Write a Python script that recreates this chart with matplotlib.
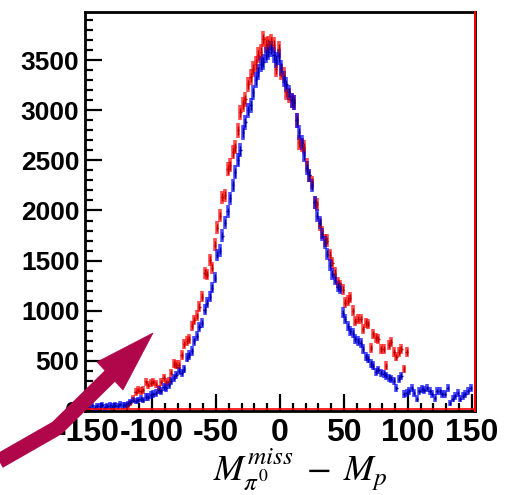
import numpy as np
import matplotlib
matplotlib.use("Agg")
import matplotlib.pyplot as plt
from matplotlib.patches import Polygon
from matplotlib.lines import Line2D

plt.rcParams['mathtext.fontset'] = 'stix'
plt.rcParams['axes.unicode_minus'] = False

# ---- data -----------------------------------------------------------
bin_width = 2.0
blue_centers = np.arange(-149, 150, 2)  # 150 bins
blue_counts = [
    40, 55, 30, 50, 45, 60, 35, 50, 55, 45, 60, 50, 65, 55, 60,
    70, 90, 110, 100, 110, 120, 110, 140, 140, 160,
    170, 180, 210, 200, 240, 230, 260, 300, 330, 360,
    400, 380, 420, 530, 560, 600, 700, 750, 840, 880,
    1010, 1080, 1140, 1230, 1330, 1560, 1600, 1750, 1880, 1990,
    2120, 2250, 2380, 2500, 2600, 2780, 2880, 3000, 3050, 3180,
    3300, 3380, 3460, 3480, 3550, 3580, 3610, 3550, 3500, 3530,
    3420, 3310, 3260, 3180, 3100, 3080, 2900, 2780, 2680, 2550,
    2420, 2350, 2250, 2080, 1950, 1880, 1760, 1680, 1570, 1460,
    1370, 1310, 1240, 1220, 980, 920, 850, 800, 780, 720,
    700, 680, 620, 540, 520, 470, 450, 390, 410, 380,
    370, 350, 330, 320, 300, 230, 320, 350, 170, 180,
    200, 230, 180, 120, 200, 220, 210, 230, 200, 170,
    130, 200, 200, 170, 170, 230, 80, 120, 150, 180,
    120, 150, 170, 200, 230,
]
red_centers = np.arange(-119, 100, 2)  # 110 bins
red_counts = [
    60, 80, 120, 190, 210, 200, 210, 290, 260, 280,
    290, 270, 220, 290, 330, 290, 300, 380, 470, 460,
    460, 560, 670, 700, 720, 850, 910, 950, 1040, 1140,
    1380, 1360, 1510, 1430, 1660, 1830, 1950, 2130, 2150, 2410,
    2450, 2580, 2630, 2800, 2980, 3060, 3110, 3260, 3330, 3410,
    3460, 3550, 3580, 3710, 3650, 3660, 3680, 3650, 3410, 3610,
    3380, 3350, 3180, 3150, 3100, 3080, 2900, 2680, 2650, 2630,
    2450, 2350, 2280, 2080, 2060, 1860, 1780, 1700, 1700, 1560,
    1480, 1380, 1280, 1250, 1210, 1080, 1100, 1130, 1000, 900,
    920, 920, 820, 880, 870, 630, 770, 730, 720, 620,
    620, 450, 660, 690, 590, 540, 590, 620, 420, 590,
]
x_ticks = [-150, -100, -50, 0, 50, 100, 150]
y_ticks = [0, 500, 1000, 1500, 2000, 2500, 3000, 3500]
x_label = r'$M^{miss}_{\pi^{0}}\;-\;M_{p}$'

# ---- figure ---------------------------------------------------------
W, H = 506, 495
fig = plt.figure(figsize=(W / 100, H / 100), dpi=100)
ax = fig.add_axes([85 / W, 1 - 411 / H, 390 / W, 399 / H])

def draw(centers, counts, col, dark):
    c = np.asarray(centers, float)
    n = np.asarray(counts, float)
    err = 0.9 * np.sqrt(n) + 25
    ax.errorbar(c, n, yerr=err, fmt='none', ecolor=col, elinewidth=2.6,
                alpha=0.7, capsize=0, zorder=3)
    ax.errorbar(c, n, yerr=err * 0.6, xerr=bin_width / 2 * 0.9, fmt='none',
                ecolor=dark, elinewidth=1.0, capsize=0, zorder=4)

draw(red_centers, red_counts, '#ff0000', '#c00000')
draw(blue_centers, blue_counts, '#0000ff', '#0000a0')

ax.set_xlim(-152.5, 152.5)
ax.set_ylim(0, 3980)
ax.set_xticks(x_ticks)
ax.set_yticks(y_ticks)
ax.set_xticks(np.arange(-150, 151, 10), minor=True)
ax.set_yticks(np.arange(0, 3901, 100), minor=True)
ax.tick_params(axis='both', which='both', direction='in', top=False, right=False,
               width=1.6, color='black')
ax.tick_params(axis='both', which='major', length=12)
ax.tick_params(axis='both', which='minor', length=6)
ax.tick_params(axis='x', which='major', pad=5)
ax.tick_params(axis='y', which='major', pad=4)
for lab in ax.get_xticklabels():
    lab.set_fontfamily('Liberation Sans')
    lab.set_fontweight('bold')
    lab.set_fontsize(23)
for lab in ax.get_yticklabels():
    lab.set_fontfamily('Liberation Sans')
    lab.set_fontweight('bold')
    lab.set_fontsize(19)

for s in ax.spines.values():
    s.set_linewidth(2.0)
    s.set_color('black')
# red right and bottom lines (histogram frame)
ax.plot([1, 1], [0, 1], transform=ax.transAxes, color='#ff0000', lw=1.4,
        clip_on=False, zorder=5)
ax.plot([0, 1], [0.004, 0.004], transform=ax.transAxes, color='#ff0000', lw=1.2,
        clip_on=False, zorder=5)

fig.text(300 / W, 1 - 470 / H, x_label, fontsize=26, ha='center', va='center')

# ---- arrow overlay (figure pixel coords) ----------------------------
def P(x, y):
    return (x / W, 1 - y / H)

col_arrow = '#b0064a'
shaft = Line2D([P(-20, 472)[0], P(57, 428)[0], P(112, 374)[0]],
               [P(-20, 472)[1], P(57, 428)[1], P(112, 374)[1]],
               transform=fig.transFigure, color=col_arrow, lw=11,
               solid_joinstyle='miter', solid_capstyle='butt', zorder=20)
fig.add_artist(shaft)
head = Polygon([P(153, 333), P(97, 362), P(123, 390)], closed=True,
               transform=fig.transFigure, facecolor=col_arrow,
               edgecolor=col_arrow, lw=0.5, zorder=21)
fig.add_artist(head)

fig.savefig('out.png', dpi=100)
